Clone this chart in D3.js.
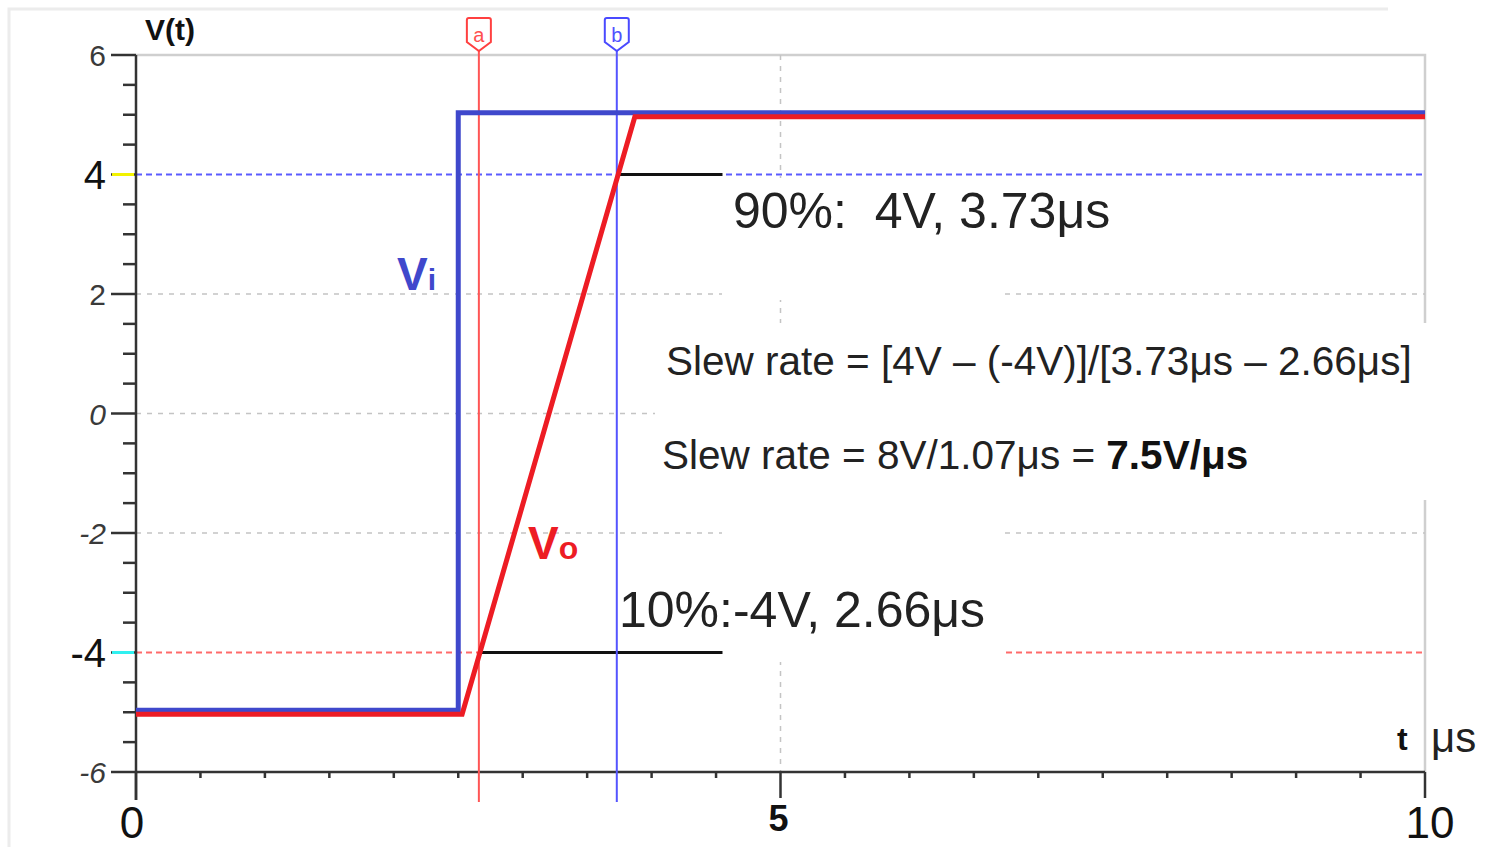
<!DOCTYPE html>
<html lang="en">
<head>
<meta charset="utf-8">
<title>Slew rate</title>
<script src="https://cdn.jsdelivr.net/npm/d3@7/dist/d3.min.js"></script>
<style>
  body { margin: 0; background: #fff; }
  text { font-family: "Liberation Sans", Arial, sans-serif; }
</style>
</head>
<body>
<script>
// waveform data (time in us, voltage in V)
var viT = [0, 2.5, 2.5, 10]
var viV = [-5, -5, 5, 5]
var voT = [0, 2.53, 3.87, 10]
var voV = [-5, -5, 5, 5]

// cursors and 10% / 90% levels
var cursorT = [2.66, 3.73]
var cursorName = ["a", "b"]
var levelV = [4, -4]
var levelStart = [3.73, 2.66]
var levelEnd = 4.55

var yTicks = [-6, -4, -2, 0, 2, 4, 6]
var yTickLabels = ["-6", "-4", "-2", "0", "2", "4", "6"]
var xTicks = [0, 5, 10]
var xTickLabels = ["0", "5", "10"]
var gridY = [-2, 0, 2]
var gridX = [5]

var W = 1491, H = 847

var x = d3.scaleLinear().domain([0, 10]).range([136, 1425])
var y = d3.scaleLinear().domain([-6, 6]).range([772, 55])

var svg = d3.select("body").append("svg")
  .attr("width", W)
  .attr("height", H)

// outer light frame
svg.append("path")
  .attr("d", "M9,847 V9 H1388")
  .attr("fill", "none").attr("stroke", "#ececec").attr("stroke-width", 3)

// plot frame (top and right)
svg.append("path")
  .attr("d", "M" + x(0) + "," + y(6) + " H" + x(10) + " V" + y(-6))
  .attr("fill", "none").attr("stroke", "#cfcfcf").attr("stroke-width", 2.5)

// grid
svg.selectAll(".gy").data(gridY).enter().append("line")
  .attr("x1", x(0)).attr("x2", x(10))
  .attr("y1", function(d){ return y(d) }).attr("y2", function(d){ return y(d) })
  .attr("stroke", "#c4c4c4").attr("stroke-width", 1.5).attr("stroke-dasharray", "5,6")
svg.selectAll(".gx").data(gridX).enter().append("line")
  .attr("x1", function(d){ return x(d) }).attr("x2", function(d){ return x(d) })
  .attr("y1", y(6)).attr("y2", y(-6))
  .attr("stroke", "#c4c4c4").attr("stroke-width", 1.5).attr("stroke-dasharray", "5,6")

// 90% and 10% level lines
svg.append("line")
  .attr("x1", x(0)).attr("x2", x(10)).attr("y1", y(4)).attr("y2", y(4))
  .attr("stroke", "#5b5bff").attr("stroke-width", 2).attr("stroke-dasharray", "6,4")
svg.append("line")
  .attr("x1", x(0)).attr("x2", x(10)).attr("y1", y(-4)).attr("y2", y(-4))
  .attr("stroke", "#ff6a6a").attr("stroke-width", 2).attr("stroke-dasharray", "6,4")

// white patches under the annotations
var patches = [[722, 178, 281, 122], [655, 323, 780, 177], [722, 500, 281, 162]]
svg.selectAll(".patch").data(patches).enter().append("rect")
  .attr("x", function(d){ return d[0] }).attr("y", function(d){ return d[1] })
  .attr("width", function(d){ return d[2] }).attr("height", function(d){ return d[3] })
  .attr("fill", "#fff")

// black level markers
svg.selectAll(".lvl").data(levelV).enter().append("line")
  .attr("x1", function(d, i){ return x(levelStart[i]) }).attr("x2", x(levelEnd))
  .attr("y1", function(d){ return y(d) }).attr("y2", function(d){ return y(d) })
  .attr("stroke", "#111").attr("stroke-width", 3)

// y axis
svg.append("line")
  .attr("x1", x(0)).attr("x2", x(0)).attr("y1", y(6)).attr("y2", 800)
  .attr("stroke", "#333").attr("stroke-width", 2.5)
var yMinor = d3.range(-6, 6.01, 0.5)
svg.selectAll(".ytk").data(yMinor).enter().append("line")
  .attr("x1", function(d){ return d % 2 == 0 ? x(0) - 25 : x(0) - 13 }).attr("x2", x(0))
  .attr("y1", function(d){ return y(d) }).attr("y2", function(d){ return y(d) })
  .attr("stroke", "#333").attr("stroke-width", 2.5)
// coloured marks for cursor levels
svg.append("line").attr("x1", x(0) - 24).attr("x2", x(0) - 2).attr("y1", y(4)).attr("y2", y(4))
  .attr("stroke", "#f2f200").attr("stroke-width", 3)
svg.append("line").attr("x1", x(0) - 24).attr("x2", x(0) - 2).attr("y1", y(-4)).attr("y2", y(-4))
  .attr("stroke", "#30f0f0").attr("stroke-width", 3)

svg.selectAll(".ylab").data(yTicks).enter().append("text")
  .attr("x", 106)
  .attr("y", function(d){ return y(d) + (Math.abs(d) == 4 ? 14 : 11) })
  .attr("text-anchor", "end")
  .attr("font-size", function(d){ return Math.abs(d) == 4 ? 40 : 30 })
  .attr("font-style", function(d){ return (d == 0 || d == -2 || d == -6) ? "italic" : "normal" })
  .attr("fill", function(d){ return Math.abs(d) == 4 ? "#111" : "#3a3a3a" })
  .text(function(d, i){ return yTickLabels[i] })

// x axis
svg.append("line")
  .attr("x1", x(0)).attr("x2", x(10)).attr("y1", y(-6)).attr("y2", y(-6))
  .attr("stroke", "#333").attr("stroke-width", 2.5)
var xMinor = d3.range(0.5, 10, 0.5).filter(function(d){ return d != 5 })
svg.selectAll(".xtk").data(xMinor).enter().append("line")
  .attr("x1", function(d){ return x(d) }).attr("x2", function(d){ return x(d) })
  .attr("y1", y(-6)).attr("y2", y(-6) + 6)
  .attr("stroke", "#333").attr("stroke-width", 2.5)
svg.selectAll(".xmj").data(xTicks).enter().append("line")
  .attr("x1", function(d){ return x(d) }).attr("x2", function(d){ return x(d) })
  .attr("y1", y(-6)).attr("y2", function(d){ return d == 0 ? 800 : y(-6) + 26 })
  .attr("stroke", "#333").attr("stroke-width", 2.5)
svg.selectAll(".xlab").data(xTicks).enter().append("text")
  .attr("x", function(d){ return x(d) + (d == 0 ? -4 : (d == 5 ? -2 : 5)) })
  .attr("y", function(d){ return d == 5 ? 831 : 838 })
  .attr("text-anchor", "middle")
  .attr("font-size", function(d){ return d == 5 ? 36 : 44 })
  .attr("font-weight", function(d){ return d == 5 ? "bold" : "normal" })
  .attr("fill", "#111")
  .text(function(d, i){ return xTickLabels[i] })

// axis titles
svg.append("text").attr("x", 145).attr("y", 40).attr("font-size", 30).attr("font-weight", "bold")
  .attr("fill", "#111").text("V(t)")
svg.append("text").attr("x", 1397).attr("y", 750).attr("font-size", 32).attr("font-weight", "bold")
  .attr("fill", "#111").text("t")
svg.append("text").attr("x", 1431).attr("y", 752).attr("font-size", 42)
  .attr("fill", "#222").text("μs")

// cursors
svg.selectAll(".cur").data(cursorT).enter().append("line")
  .attr("x1", function(d){ return x(d) }).attr("x2", function(d){ return x(d) })
  .attr("y1", 50).attr("y2", 802)
  .attr("stroke", function(d, i){ return i == 0 ? "#ff5555" : "#5555ff" })
  .attr("stroke-width", 2)
var flags = svg.selectAll(".flag").data(cursorT).enter().append("g")
  .attr("transform", function(d){ return "translate(" + x(d) + ",0)" })
flags.append("path")
  .attr("d", "M-12,20 Q-12,18 -10,18 H10 Q12,18 12,20 V42 L0,51 L-12,42 Z")
  .attr("fill", "#fff")
  .attr("stroke", function(d, i){ return i == 0 ? "#ff4040" : "#4a4aff" })
  .attr("stroke-width", 2)
flags.append("text")
  .attr("y", 42).attr("text-anchor", "middle").attr("font-size", 20)
  .attr("fill", function(d, i){ return i == 0 ? "#ff5050" : "#5050ff" })
  .text(function(d, i){ return cursorName[i] })

// waveforms
var line = d3.line()
  .x(function(d){ return x(d[0]) })
  .y(function(d){ return y(d[1]) })
svg.append("path")
  .datum(d3.zip(viT, viV))
  .attr("d", line)
  .attr("transform", "translate(0,-2)")
  .attr("fill", "none").attr("stroke", "#3f48cc").attr("stroke-width", 5)
svg.append("path")
  .datum(d3.zip(voT, voV))
  .attr("d", line)
  .attr("transform", "translate(0,2)")
  .attr("fill", "none").attr("stroke", "#ed1c24").attr("stroke-width", 5)

// series labels
var vi = svg.append("text").attr("x", 397).attr("y", 290).attr("fill", "#3f48cc").attr("font-weight", "bold")
vi.append("tspan").attr("font-size", 46).text("V")
vi.append("tspan").attr("font-size", 30).text("i")
var vo = svg.append("text").attr("x", 528).attr("y", 559).attr("fill", "#ed1c24").attr("font-weight", "bold")
vo.append("tspan").attr("font-size", 46).text("V")
vo.append("tspan").attr("font-size", 32).text("o")

// annotations
svg.append("text").attr("x", 733).attr("y", 228).attr("font-size", 50).attr("fill", "#222")
  .attr("xml:space", "preserve").text("90%:  4V, 3.73μs")
svg.append("text").attr("x", 619).attr("y", 627).attr("font-size", 50).attr("fill", "#222")
  .text("10%:-4V, 2.66μs")
svg.append("text").attr("x", 666).attr("y", 375).attr("font-size", 40.5).attr("fill", "#222")
  .text("Slew rate = [4V – (-4V)]/[3.73μs – 2.66μs]")
var sr = svg.append("text").attr("x", 662).attr("y", 469).attr("font-size", 40.5).attr("fill", "#222")
sr.append("tspan").text("Slew rate = 8V/1.07μs = ")
sr.append("tspan").attr("font-weight", "bold").attr("fill", "#111").text("7.5V/μs")
</script>
</body>
</html>
